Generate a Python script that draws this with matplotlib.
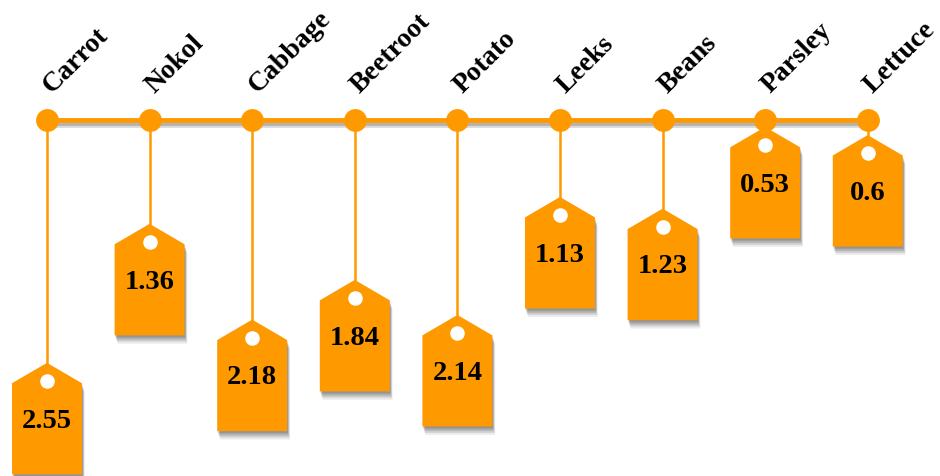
import matplotlib.pyplot as plt
import matplotlib.patheffects as pe
from matplotlib.patches import Polygon
import numpy as np

# Data
crops = ['Carrot', 'Nokol', 'Cabbage', 'Beetroot', 'Potato', 'Leeks', 'Beans', 'Parsley', 'Lettuce']
values = [2.55, 1.36, 2.18, 1.84, 2.14, 1.13, 1.23, 0.53, 0.6]
value_labels = ['2.55', '1.36', '2.18', '1.84', '2.14', '1.13', '1.23', '0.53', '0.6']

orange = '#FF9900'
plt.rc('font', family=['Liberation Serif', 'DejaVu Serif'])

fig = plt.figure(figsize=(9.4, 4.77), dpi=100)
ax = fig.add_axes([0, 0, 1, 1])
ax.set_xlim(-0.458, 8.704)
ax.set_ylim(3.519, -0.565)  # inverted: tags hang downward
ax.axis('off')

x = np.arange(len(crops))
line_y = 0.471

# tag shape (data units)
half_w = 0.341
shoulder = 0.175
height = 0.955

# soft drop shadow made from a few faint offset copies
shadow = [pe.SimplePatchShadow(offset=(0.5, -1.5), shadow_rgbFace='black', alpha=0.15),
          pe.SimplePatchShadow(offset=(1, -3), shadow_rgbFace='black', alpha=0.15),
          pe.SimplePatchShadow(offset=(1.5, -4.5), shadow_rgbFace='black', alpha=0.12),
          pe.SimplePatchShadow(offset=(2, -6), shadow_rgbFace='black', alpha=0.08),
          pe.Normal()]

for xi, v, lab in zip(x, values, value_labels):
    # stem
    ax.plot([xi, xi], [line_y, v], color=orange, lw=1.8, zorder=1)
    # tag
    pts = [(xi - half_w, v + shoulder), (xi, v), (xi + half_w, v + shoulder),
           (xi + half_w, v + height), (xi - half_w, v + height)]
    tag = Polygon(pts, closed=True, facecolor=orange, edgecolor='none', zorder=2)
    tag.set_path_effects(shadow)
    ax.add_patch(tag)
    # value text
    ax.text(xi, v + 0.49, lab, ha='center', va='center', fontsize=20.5,
            fontweight='bold', color='black', zorder=4)

# holes in tags
ax.scatter(x, np.array(values) + 0.154, s=110, color='white', zorder=3, linewidths=0)

# main timeline
line_shadow = [pe.SimpleLineShadow(offset=(0.5, -2), shadow_color='black', alpha=0.18),
               pe.SimpleLineShadow(offset=(1, -3.5), shadow_color='black', alpha=0.14),
               pe.Normal()]
ax.plot([x[0], x[-1]], [line_y, line_y], color=orange, lw=3.5, zorder=5, path_effects=line_shadow)
ax.scatter(x, [line_y] * len(x), s=270, color=orange, zorder=6, linewidths=0)

# category labels
for xi, name in zip(x, crops):
    ax.text(xi + 0.05, 0.24, name, rotation=45, rotation_mode='anchor',
            ha='left', va='baseline', fontsize=20, fontweight='bold', zorder=7)

plt.savefig('out.png', dpi=100)
